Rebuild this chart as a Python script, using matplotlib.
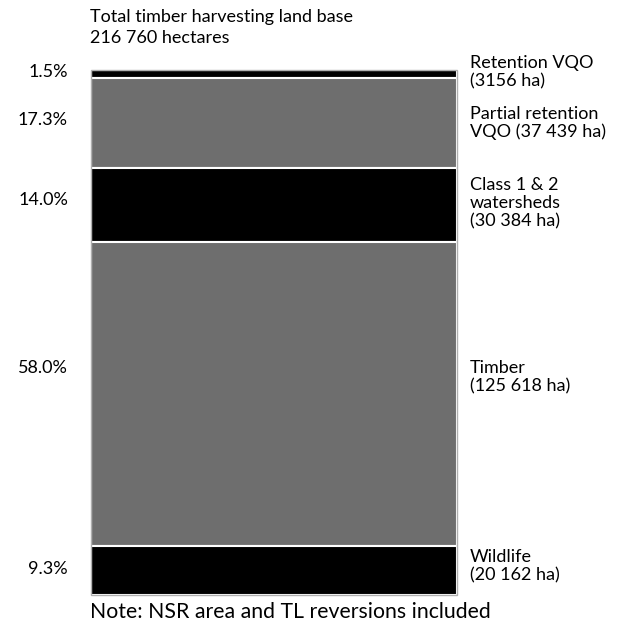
import matplotlib.pyplot as plt

# land base breakdown, top of bar to bottom
names = ["Retention VQO\n(3156 ha)",
         "Partial retention\nVQO (37 439 ha)",
         "Class 1 & 2\nwatersheds\n(30 384 ha)",
         "Timber\n(125 618 ha)",
         "Wildlife\n(20 162 ha)"]
hectares = [3156, 37439, 30384, 125618, 20162]
percent = ["1.5%", "17.3%", "14.0%", "58.0%", "9.3%"]
colours = ["#000000", "#6e6e6e", "#000000", "#6e6e6e", "#000000"]

# label heights (pixels from top of figure) - left and right text
pct_y = [72, 120, 200, 368, 569]
name_y = [72, 123, 203, 377, 566]

plt.rcParams['font.family'] = ['Lato', 'DejaVu Sans']

fig = plt.figure(figsize=(6.19, 6.28), dpi=100)
ax = fig.add_axes([91/619, 1 - 595/628, 366/619, 525/628])

total = sum(hectares)
bottom = 0
for h, c in zip(hectares, colours):
    ax.bar(0, h, bottom=bottom, width=1.0, color=c, edgecolor="white", linewidth=1.5)
    bottom += h
ax.set_xlim(-0.5, 0.5)
ax.set_ylim(total, 0)
ax.axis("off")

# thin grey outline around the bar
ax.add_patch(plt.Rectangle((0, 0), 1, 1, transform=ax.transAxes, fill=False,
                           edgecolor="#b0b0b0", linewidth=1.0, clip_on=False))

for p, y in zip(percent, pct_y):
    fig.text(68/619, 1 - y/628, p, ha="right", va="center", fontsize=13)
for n, y in zip(names, name_y):
    fig.text(470/619, 1 - y/628, n, ha="left", va="center", fontsize=13, linespacing=1.15)

fig.text(90/619, 1 - 9/628, "Total timber harvesting land base\n216 760 hectares",
         ha="left", va="top", fontsize=13, linespacing=1.4)
fig.text(90/619, 1 - 612/628, "Note: NSR area and TL reversions included",
         ha="left", va="center", fontsize=15.3)

fig.savefig("out.png", dpi=100)
